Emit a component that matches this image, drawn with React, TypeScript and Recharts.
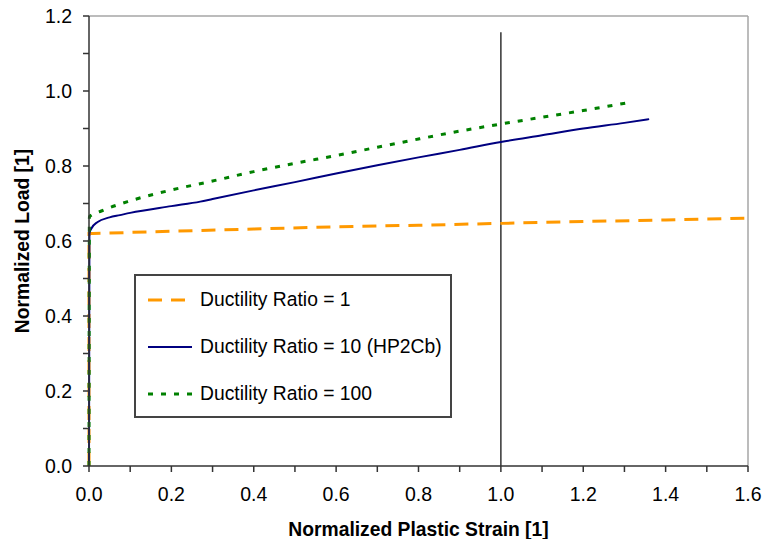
import React from 'react';
import {
  LineChart,
  Line,
  XAxis,
  YAxis,
  ReferenceLine,
  Legend,
  Label,
} from 'recharts';

// values
const ratio1X = [0, 0, 0.01, 0.2, 0.4, 0.6, 0.8, 1.0, 1.2, 1.4, 1.6];
const ratio1Y = [0, 0.62, 0.62, 0.626, 0.632, 0.638, 0.642, 0.647, 0.652, 0.656, 0.661];

const ratio10X = [0, 0.001, 0.005, 0.02, 0.05, 0.075, 0.1, 0.2, 0.27, 0.3, 0.4, 0.5, 0.6, 0.7, 0.8, 0.9, 1.0, 1.1, 1.2, 1.3, 1.36];
const ratio10Y = [0, 0.62, 0.632, 0.65, 0.663, 0.669, 0.675, 0.693, 0.705, 0.712, 0.735, 0.757, 0.78, 0.802, 0.823, 0.843, 0.864, 0.882, 0.9, 0.915, 0.925];

const ratio100X = [0, 0.001, 0.03, 0.1, 0.2, 0.3, 0.4, 0.5, 0.6, 0.7, 0.8, 0.9, 1.0, 1.1, 1.2, 1.32];
const ratio100Y = [0, 0.665, 0.68, 0.707, 0.736, 0.76, 0.785, 0.807, 0.828, 0.85, 0.872, 0.893, 0.912, 0.93, 0.948, 0.971];

const xTicks = [0, 0.1, 0.2, 0.3, 0.4, 0.5, 0.6, 0.7, 0.8, 0.9, 1.0, 1.1, 1.2, 1.3, 1.4, 1.5, 1.6];
const yTicks = [0, 0.1, 0.2, 0.3, 0.4, 0.5, 0.6, 0.7, 0.8, 0.9, 1.0, 1.1, 1.2];

const markerX = 1.0;
const markerTop = 1.157;

const seriesNames = ['Ductility Ratio = 1', 'Ductility Ratio = 10 (HP2Cb)', 'Ductility Ratio = 100'];

const zip = (xs: number[], ys: number[]) => xs.map((x, i) => ({ x, y: ys[i] }));

const fmt = (v: number) => (Math.round(v * 10) % 2 === 0 ? v.toFixed(1) : '');

const FONT = 'Arial, "Liberation Sans", sans-serif';

const legendStyles = [
  { stroke: '#FF9900', width: 3, dash: '14 9' },
  { stroke: '#000080', width: 2, dash: undefined },
  { stroke: '#008000', width: 3, dash: '5 8' },
];

const LegendBox = () => (
  <div
    style={{
      boxSizing: 'border-box',
      width: 318,
      height: 144,
      border: '2px solid #444',
      background: '#fff',
      fontFamily: FONT,
      fontSize: 19.3,
      color: '#000',
      paddingTop: 0,
    }}
  >
    {seriesNames.map((n, i) => (
      <div key={n} style={{ display: 'flex', alignItems: 'center', height: 47, paddingLeft: 11 }}>
        <svg width={46} height={10} style={{ marginRight: 7, flexShrink: 0 }}>
          <line
            x1={1}
            y1={5}
            x2={45}
            y2={5}
            stroke={legendStyles[i].stroke}
            strokeWidth={legendStyles[i].width}
            strokeDasharray={legendStyles[i].dash}
          />
        </svg>
        <span style={{ whiteSpace: 'nowrap', flexShrink: 0 }}>{n}</span>
      </div>
    ))}
  </div>
);

export default function App() {
  const tickStyle = { fill: '#000', fontSize: 19.5, fontFamily: FONT };
  return (
    <div style={{ position: 'absolute', left: 0, top: 0, background: '#fff' }}>
      <LineChart width={763} height={539} margin={{ top: 16, right: 15, left: 0, bottom: 0 }}>
        <XAxis
          dataKey="x"
          type="number"
          domain={[0, 1.6]}
          ticks={xTicks}
          interval={0}
          tickFormatter={fmt}
          tick={tickStyle}
          tickSize={6}
          tickMargin={15}
          height={73}
          stroke="#333"
          strokeWidth={1.5}
          allowDuplicatedCategory={false}
        >
          <Label
            value="Normalized Plastic Strain [1]"
            position="insideBottom"
            offset={3}
            style={{ fontWeight: 'bold', fontSize: 19.3, fontFamily: FONT, fill: '#000' }}
          />
        </XAxis>
        <YAxis
          type="number"
          domain={[0, 1.2]}
          ticks={yTicks}
          interval={0}
          tickFormatter={fmt}
          tick={tickStyle}
          tickSize={6}
          tickMargin={11}
          width={89}
          stroke="#333"
          strokeWidth={1.5}
        >
          <Label
            value="Normalized Load [1]"
            angle={-90}
            position="insideLeft"
            offset={22}
            style={{ fontWeight: 'bold', fontSize: 19.3, fontFamily: FONT, fill: '#000', textAnchor: 'middle' }}
          />
        </YAxis>
        <ReferenceLine y={1.2} stroke="#a6a6a6" strokeWidth={1.5} />
        <ReferenceLine x={1.6} stroke="#a6a6a6" strokeWidth={1.5} />
        <ReferenceLine
          segment={[
            { x: markerX, y: 0 },
            { x: markerX, y: markerTop },
          ]}
          stroke="#333"
          strokeWidth={1.5}
        />
        <Line
          data={zip(ratio1X, ratio1Y)}
          dataKey="y"
          name={seriesNames[0]}
          type="linear"
          stroke="#FF9900"
          strokeWidth={3}
          strokeDasharray="14 9"
          dot={false}
          isAnimationActive={false}
        />
        <Line
          data={zip(ratio10X, ratio10Y)}
          dataKey="y"
          name={seriesNames[1]}
          type="monotone"
          stroke="#000080"
          strokeWidth={2}
          dot={false}
          isAnimationActive={false}
        />
        <Line
          data={zip(ratio100X, ratio100Y)}
          dataKey="y"
          name={seriesNames[2]}
          type="monotone"
          stroke="#008000"
          strokeWidth={3}
          strokeDasharray="5 8"
          dot={false}
          isAnimationActive={false}
        />
        <Legend
          layout="vertical"
          align="center"
          verticalAlign="middle"
          content={() => <LegendBox />}
          wrapperStyle={{ left: 134, top: 274, width: 318, height: 144, bottom: 'auto', right: 'auto' }}
        />
      </LineChart>
    </div>
  );
}
